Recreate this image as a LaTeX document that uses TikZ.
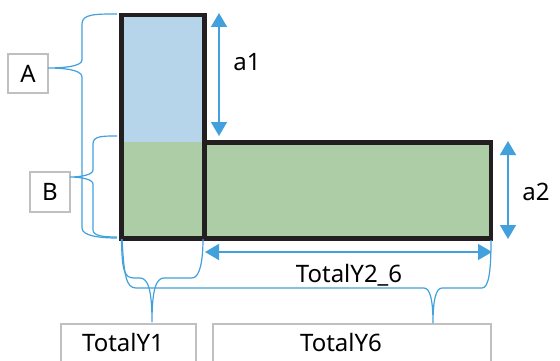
\documentclass[tikz,border=0pt]{standalone}
\usepackage{fontspec}
\setmainfont{Noto Sans}
\usetikzlibrary{arrows.meta}

\definecolor{barblue}{RGB}{182,213,234}
\definecolor{bargreen}{RGB}{173,205,167}
\definecolor{dimblue}{RGB}{66,160,220}
\definecolor{tagline}{RGB}{192,192,192}
\definecolor{edgeink}{RGB}{35,31,32}

\tikzset{
  dim/.style={dimblue, line width=1.5pt,
    {Triangle[width=16pt,length=14pt]}-{Triangle[width=16pt,length=14pt]}},
  curly/.style={dimblue, line width=1.2pt},
  tag/.style={draw=tagline, line width=1.8pt, fill=white, inner sep=0pt},
  lbl/.style={anchor=base, font=\fontsize{24}{28}\selectfont, inner sep=0pt}
}

\begin{document}
\begin{tikzpicture}[x=1pt, y=-1pt]
  \useasboundingbox (0,0) rectangle (560,361);

  % corners of the two bars
  \coordinate (tl) at (121.5,15);
  \coordinate (tr) at (204.5,15);
  \coordinate (mid) at (204.5,142.5);
  \coordinate (rt) at (491,142.5);
  \coordinate (rb) at (491,238.5);
  \coordinate (lb) at (121.5,238.5);
  \coordinate (cb) at (204.5,238.5);

  % fills
  \fill[barblue] (tl) rectangle (mid);
  \fill[bargreen] (121.5,142) rectangle (rb);
  \draw[edgeink, line width=4.6pt, line join=miter]
    (lb) -- (tl) -- (tr) -- (mid) -- (rt) -- (rb) -- cycle;
  \draw[edgeink, line width=4.6pt] (mid) -- (cb);

  % dimension arrows
  \draw[dim] (219,13) -- (219,136);
  \node[lbl] (a1) at (247,71) {a1};
  \draw[dim] (508,141) -- (508,239);
  \node[lbl] (a2) at (536,200) {a2};
  \draw[dim] (205,252) -- (492,252);
  \node[lbl] (y26) at (349,282) {TotalY2\_6};

  % tags
  \node[tag, minimum width=40pt, minimum height=39pt] (A) at (28,73.5) {};
  \node[lbl] at (28,83) {A};
  \node[tag, minimum width=40pt, minimum height=40pt] (B) at (50,192) {};
  \node[lbl] at (50,200) {B};
  \node[tag, minimum width=135pt, minimum height=46pt] (Y1) at (128.5,347) {};
  \node[lbl] at (123,351) {TotalY1};
  \node[tag, minimum width=278pt, minimum height=46pt] (Y6) at (352,347) {};
  \node[lbl] at (341,351) {TotalY6};

  % brace tips
  \coordinate (tipA) at (48,68);
  \coordinate (tipB) at (70,177);
  \coordinate (tipY1) at (152,322);
  \coordinate (tipY6) at (433,323);

  % braces
  \draw[curly] (117,14) .. controls (95,14) and (82,14) .. (82,24) -- (82,60)
    .. controls (82,67) and (60,68) .. (tipA)
    .. controls (60,68) and (82,69) .. (82,77) -- (82,228)
    .. controls (82,236) and (100,238) .. (117,238);
  \draw[curly] (117,136) .. controls (102,136) and (93,136) .. (93,144) -- (93,170)
    .. controls (93,175) and (80,177) .. (tipB)
    .. controls (80,177) and (93,179) .. (93,184) -- (93,230)
    .. controls (93,236) and (104,237) .. (117,237);
  \draw[curly] (121.5,239) .. controls (122,270) and (124,278) .. (134,278) -- (140,278)
    .. controls (148,278) and (152,290) .. (tipY1)
    .. controls (152,290) and (156,278) .. (164,278) -- (192,278)
    .. controls (200,278) and (203,260) .. (203,239);
  \draw[curly] (122,239) .. controls (124,275) and (126,288) .. (136,288) -- (424,288)
    .. controls (430,288) and (433,300) .. (tipY6)
    .. controls (433,300) and (436,288) .. (442,288) -- (482,288)
    .. controls (489,288) and (491,270) .. (491,240);
\end{tikzpicture}
\end{document}
